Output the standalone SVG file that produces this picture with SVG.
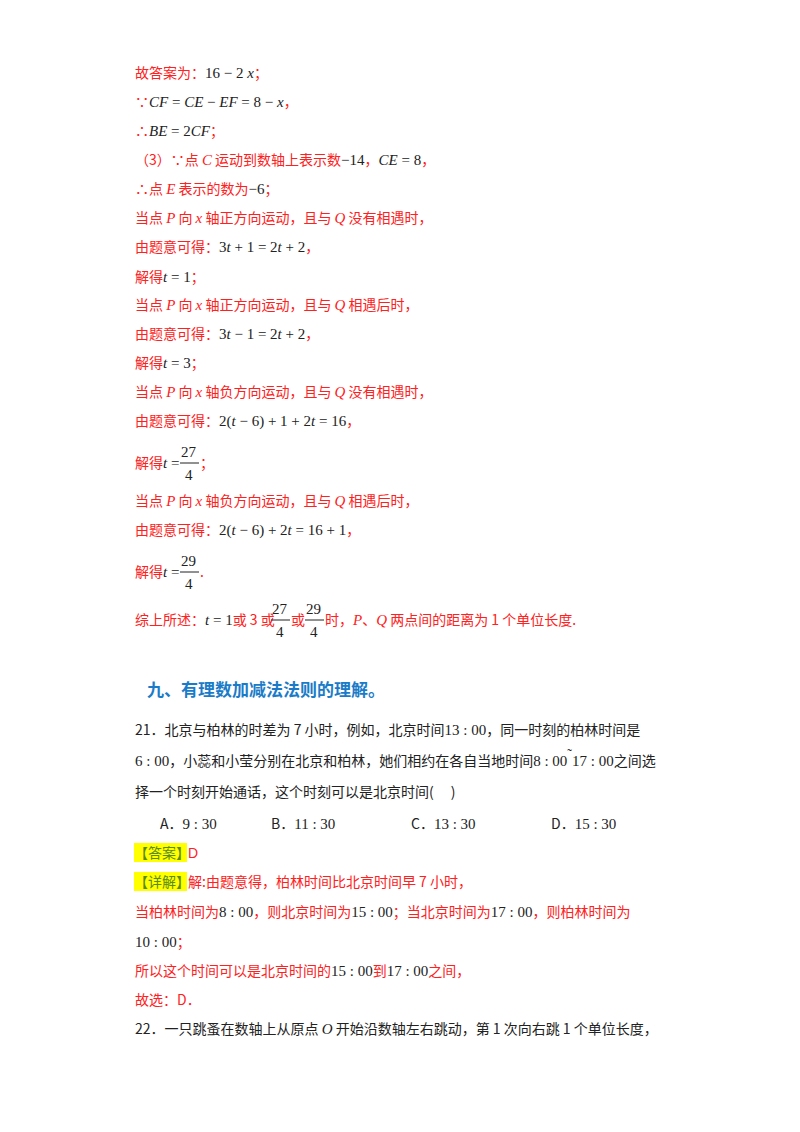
<svg xmlns="http://www.w3.org/2000/svg" width="800" height="1132" viewBox="0 0 800 1132">
<style>
text{font-family:"Noto Sans CJK SC","Liberation Serif",serif;font-size:14px;fill:#ff2020}
.m{font-family:"Liberation Serif","Noto Sans CJK SC",serif;fill:#222;font-size:15px}
.i{font-style:italic}
.k{fill:#222}
.h{font-size:17px;font-weight:bold;fill:#1a7cc8}
.tag{fill:#5a8a1a}
line.f{stroke:#222;stroke-width:1}
</style>
<rect width="800" height="1132" fill="#fff"/>
<g id="solution">
<text x="135" y="78">故答案为：<tspan class="m">16 − 2 <tspan class="i">x</tspan></tspan>；</text>
<text x="135" y="107">∵<tspan class="m"><tspan class="i">CF</tspan> = <tspan class="i">CE</tspan> − <tspan class="i">EF</tspan> = 8 − <tspan class="i">x</tspan></tspan>，</text>
<text x="135" y="136">∴<tspan class="m"><tspan class="i">BE</tspan> = 2<tspan class="i">CF</tspan></tspan>；</text>
<text x="135" y="165">（3）∵点 <tspan class="m i" style="fill:#ff2020">C</tspan> 运动到数轴上表示数<tspan class="m">−14</tspan>，<tspan class="m"><tspan class="i">CE</tspan> = 8</tspan>，</text>
<text x="135" y="194">∴点 <tspan class="m i" style="fill:#ff2020">E</tspan> 表示的数为<tspan class="m">−6</tspan>；</text>
<text x="135" y="223">当点 <tspan class="m i" style="fill:#ff2020">P</tspan> 向 <tspan class="m i" style="fill:#ff2020">x</tspan> 轴正方向运动，且与 <tspan class="m i" style="fill:#ff2020">Q</tspan> 没有相遇时，</text>
<text x="135" y="252">由题意可得：<tspan class="m">3<tspan class="i">t</tspan> + 1 = 2<tspan class="i">t</tspan> + 2</tspan>，</text>
<text x="135" y="282">解得<tspan class="m"><tspan class="i">t</tspan> = 1</tspan>；</text>
<text x="135" y="310">当点 <tspan class="m i" style="fill:#ff2020">P</tspan> 向 <tspan class="m i" style="fill:#ff2020">x</tspan> 轴正方向运动，且与 <tspan class="m i" style="fill:#ff2020">Q</tspan> 相遇后时，</text>
<text x="135" y="339">由题意可得：<tspan class="m">3<tspan class="i">t</tspan> − 1 = 2<tspan class="i">t</tspan> + 2</tspan>，</text>
<text x="135" y="368">解得<tspan class="m"><tspan class="i">t</tspan> = 3</tspan>；</text>
<text x="135" y="397">当点 <tspan class="m i" style="fill:#ff2020">P</tspan> 向 <tspan class="m i" style="fill:#ff2020">x</tspan> 轴负方向运动，且与 <tspan class="m i" style="fill:#ff2020">Q</tspan> 没有相遇时，</text>
<text x="135" y="426">由题意可得：<tspan class="m">2(<tspan class="i">t</tspan> − 6) + 1 + 2<tspan class="i">t</tspan> = 16</tspan>，</text>
<text x="135" y="468">解得<tspan class="m"><tspan class="i">t</tspan> =</tspan></text>
<text class="m" x="181" y="457">27</text><line class="f" x1="180" y1="463" x2="199" y2="463"/><text class="m" x="185" y="480">4</text>
<text x="200" y="468">；</text>
<text x="135" y="506">当点 <tspan class="m i" style="fill:#ff2020">P</tspan> 向 <tspan class="m i" style="fill:#ff2020">x</tspan> 轴负方向运动，且与 <tspan class="m i" style="fill:#ff2020">Q</tspan> 相遇后时，</text>
<text x="135" y="535">由题意可得：<tspan class="m">2(<tspan class="i">t</tspan> − 6) + 2<tspan class="i">t</tspan> = 16 + 1</tspan>，</text>
<text x="135" y="577">解得<tspan class="m"><tspan class="i">t</tspan> =</tspan></text>
<text class="m" x="181" y="566">29</text><line class="f" x1="180" y1="572" x2="199" y2="572"/><text class="m" x="185" y="589">4</text>
<text x="200" y="577">.</text>
<text x="135" y="625">综上所述：<tspan class="m"><tspan class="i">t</tspan> = 1</tspan>或 3 或</text>
<text class="m" x="272" y="614">27</text><line class="f" x1="271" y1="620" x2="290" y2="620"/><text class="m" x="276" y="637">4</text>
<text x="291" y="625">或</text>
<text class="m" x="306" y="614">29</text><line class="f" x1="305" y1="620" x2="324" y2="620"/><text class="m" x="310" y="637">4</text>
<text x="325" y="625">时，<tspan class="m i" style="fill:#ff2020">P</tspan>、<tspan class="m i" style="fill:#ff2020">Q</tspan> 两点间的距离为 1 个单位长度.</text>
</g>
<g id="heading">
<text class="h" x="147" y="696">九、有理数加减法法则的理解。</text>
</g>
<g id="q21">
<text class="k" x="135" y="735">21．北京与柏林的时差为 7 小时，例如，北京时间<tspan class="m">13 : 00</tspan>，同一时刻的柏林时间是</text>
<text class="k" x="135" y="766"><tspan class="m">6 : 00</tspan>，小蕊和小莹分别在北京和柏林，她们相约在各自当地时间<tspan class="m">8 : 00</tspan><tspan dy="-7">˜</tspan><tspan dy="7" class="m">17 : 00</tspan>之间选</text>
<text class="k" x="135" y="797">择一个时刻开始通话，这个时刻可以是北京时间(　 )</text>
<text class="k" x="160" y="829">A．<tspan class="m">9 : 30</tspan></text>
<text class="k" x="271" y="829">B．<tspan class="m">11 : 30</tspan></text>
<text class="k" x="411" y="829">C．<tspan class="m">13 : 30</tspan></text>
<text class="k" x="551" y="829">D．<tspan class="m">15 : 30</tspan></text>
<rect x="134" y="843" width="53" height="19" fill="#ffff00"/>
<text class="tag" x="134" y="858">【答案】</text><text x="188" y="858" style="font-family:'Liberation Sans',sans-serif">D</text>
<rect x="134" y="872" width="53" height="19" fill="#ffff00"/>
<text class="tag" x="134" y="887">【详解】</text><text x="188" y="887">解:由题意得，柏林时间比北京时间早 7 小时，</text>
<text x="135" y="917">当柏林时间为<tspan class="m">8 : 00</tspan>，则北京时间为<tspan class="m">15 : 00</tspan>；当北京时间为<tspan class="m">17 : 00</tspan>，则柏林时间为</text>
<text x="135" y="947"><tspan class="m">10 : 00</tspan>；</text>
<text x="135" y="976">所以这个时间可以是北京时间的<tspan class="m">15 : 00</tspan>到<tspan class="m">17 : 00</tspan>之间，</text>
<text x="135" y="1005">故选：D．</text>
</g>
<g id="q22">
<text class="k" x="135" y="1034">22．一只跳蚤在数轴上从原点 <tspan class="m i">O</tspan> 开始沿数轴左右跳动，第 1 次向右跳 1 个单位长度，</text>
</g>
</svg>
